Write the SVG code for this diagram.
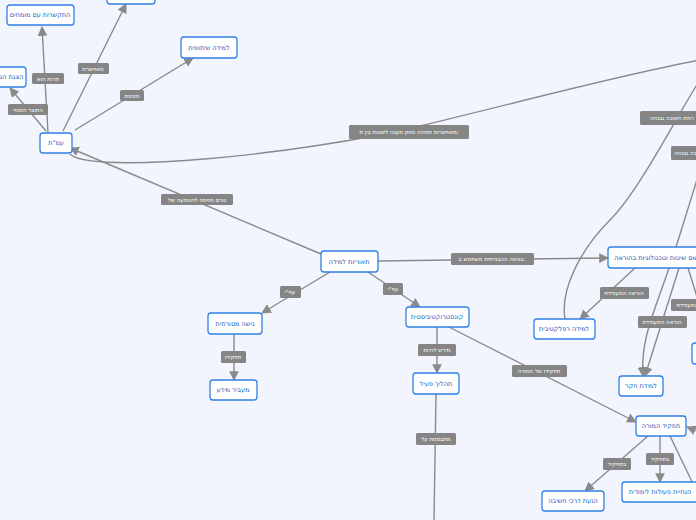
<svg xmlns="http://www.w3.org/2000/svg" width="696" height="520" viewBox="0 0 696 520">
<defs>
<marker id="a" viewBox="0 0 10 10" refX="9" refY="5" markerWidth="7" markerHeight="7" orient="auto-start-reverse"><path d="M0,0L10,5L0,10z" fill="#8a8a8a"/></marker>
<style>
.n rect{fill:#fff;stroke:#2f80e6;stroke-width:1.3}
.n text{fill:#1560c0;font-family:"DejaVu Sans",sans-serif;font-size:6.5px;text-anchor:middle;dominant-baseline:central}
.c path{fill:none;stroke:#8a8a8a;stroke-width:1.4}
.l rect{fill:#858585}
.l text{fill:#fff;font-family:"DejaVu Sans",sans-serif;font-size:5.5px;text-anchor:middle;dominant-baseline:central}
</style>
</defs>
<rect width="696" height="520" fill="#f2f5fd"/>
<g class="c">
<path d="M48,133L42,27" marker-end="url(#a)"/>
<path d="M63,131L126,4" marker-end="url(#a)"/>
<path d="M46,131L10,88" marker-end="url(#a)"/>
<path d="M75,130L193,58" marker-end="url(#a)"/>
<path d="M321,254L70,148" marker-end="url(#a)"/>
<path d="M70,154C90,175 300,155 420,126S620,75 700,60"/>
<path d="M378,261L608,258" marker-end="url(#a)"/>
<path d="M330,272L262,313" marker-end="url(#a)"/>
<path d="M368,272L420,307" marker-end="url(#a)"/>
<path d="M234,334L234,380" marker-end="url(#a)"/>
<path d="M437,327L437,373" marker-end="url(#a)"/>
<path d="M449,327L636,422" marker-end="url(#a)"/>
<path d="M436,394L434,520"/>
<path d="M635,268L580,319" marker-end="url(#a)"/>
<path d="M669,268C655,310 640,340 643,376" marker-end="url(#a)"/>
<path d="M679,268L645,376" marker-end="url(#a)"/>
<path d="M688,268L698,300"/>
<path d="M565,319C560,290 580,250 610,220S680,110 700,80"/>
<path d="M676,247L700,170"/>
<path d="M648,436L585,491" marker-end="url(#a)"/>
<path d="M660,436L660,482" marker-end="url(#a)"/>
<path d="M670,436L696,490"/>
<path d="M700,432L687,427" marker-end="url(#a)"/>
</g>
<g class="l">
<g><rect x="78" y="63" width="31" height="11" rx="1.5"/><text x="93" y="68.5">מאפשרת</text></g>
<g><rect x="32" y="73" width="32" height="11" rx="1.5"/><text x="48" y="78.5">חרות הוא</text></g>
<g><rect x="8" y="104" width="40" height="11" rx="1.5"/><text x="28" y="109.5">התוצר הסופי</text></g>
<g><rect x="120" y="90" width="24" height="11" rx="1.5"/><text x="132" y="95.5">מזמנת</text></g>
<g><rect x="161" y="194" width="72" height="11" rx="1.5"/><text x="197" y="199.5">גורם מפתח להטמעה של</text></g>
<g><rect x="349" y="125" width="120" height="14" rx="1.5"/><text x="409" y="132">מאפשרות תמיכה ומתן מענה לשונות בין ת:</text></g>
<g><rect x="640" y="111" width="60" height="14" rx="1.5"/><text x="672" y="118">רמת חשיבה גבוהה</text></g>
<g><rect x="671" y="146" width="40" height="14" rx="1.5"/><text x="696" y="153">רמת חשיבה גבוהה</text></g>
<g><rect x="451" y="253" width="83" height="12" rx="1.5"/><text x="492" y="259">בגישה ההבנייתית משתמש ב:</text></g>
<g><rect x="600" y="287" width="49" height="12" rx="1.5"/><text x="624" y="293">הוראה המעודדת</text></g>
<g><rect x="638" y="316" width="49" height="12" rx="1.5"/><text x="662" y="322">הוראה המעודדת</text></g>
<g><rect x="671" y="299" width="40" height="12" rx="1.5"/><text x="696" y="305">הוראה המעודדת</text></g>
<g><rect x="280" y="286" width="21" height="12" rx="1.5"/><text x="290" y="292">עפ"י</text></g>
<g><rect x="383" y="283" width="20" height="12" rx="1.5"/><text x="393" y="289">עפ"י</text></g>
<g><rect x="221" y="351" width="25" height="12" rx="1.5"/><text x="233" y="357">תפקידו</text></g>
<g><rect x="418" y="344" width="38" height="12" rx="1.5"/><text x="437" y="350">נדרש להיות</text></g>
<g><rect x="416" y="433" width="40" height="12" rx="1.5"/><text x="436" y="439">מתבססת על</text></g>
<g><rect x="512" y="365" width="55" height="12" rx="1.5"/><text x="539" y="371">תפקידו של המורה</text></g>
<g><rect x="603" y="458" width="28" height="12" rx="1.5"/><text x="617" y="464">בתפקיד</text></g>
<g><rect x="646" y="453" width="28" height="12" rx="1.5"/><text x="660" y="459">בתפקיד</text></g>
</g>
<g class="n">
<g id="n1"><rect x="40" y="133" width="32" height="20" rx="3"/><text x="56" y="143">עמ"ת</text></g>
<g id="n2"><rect x="7" y="5" width="67" height="20" rx="3"/><text x="40" y="15">התקשרות עם מומחים</text></g>
<g id="n3"><rect x="107" y="-16" width="48" height="20" rx="3"/></g>
<g id="n4"><rect x="-20" y="67" width="46" height="20" rx="3"/><text x="6" y="77">הצגת המוצר</text></g>
<g id="n5"><rect x="181" y="37" width="56" height="21" rx="3"/><text x="209" y="47.5">למידה שיתופית</text></g>
<g id="n6"><rect x="321" y="251" width="57" height="21" rx="3"/><text x="349" y="261.5">תאוריות למידה</text></g>
<g id="n7"><rect x="208" y="313" width="54" height="21" rx="3"/><text x="235" y="323.5">גישה מסורתית</text></g>
<g id="n8"><rect x="210" y="380" width="47" height="20" rx="3"/><text x="233" y="390">מעביר מידע</text></g>
<g id="n9"><rect x="406" y="307" width="63" height="20" rx="3"/><text x="437" y="317">קונסטרוקטיביסטית</text></g>
<g id="n10"><rect x="413" y="373" width="46" height="21" rx="3"/><text x="436" y="383.5">תהליך פעיל</text></g>
<g id="n11"><rect x="636" y="416" width="50" height="20" rx="3"/><text x="661" y="426">תפקיד המורה</text></g>
<g id="n12"><rect x="542" y="491" width="62" height="20" rx="3"/><text x="573" y="501">הנעת דרכי חשיבה</text></g>
<g id="n13"><rect x="622" y="482" width="80" height="20" rx="3"/><text x="660" y="492">הנחיית פעולות לימודית</text></g>
<g id="n14"><rect x="619" y="376" width="44" height="20" rx="3"/><text x="641" y="386">למידת חקר</text></g>
<g id="n15"><rect x="534" y="319" width="61" height="20" rx="3"/><text x="564" y="329">למידה רפלקטיבית</text></g>
<g id="n16"><rect x="608" y="247" width="100" height="21" rx="3"/><text x="658" y="257.5">יישום שיטות וטכנולוגיות בהוראה</text></g>
<g id="n17"><rect x="692" y="343" width="20" height="21" rx="3"/></g>
</g>
</svg>
